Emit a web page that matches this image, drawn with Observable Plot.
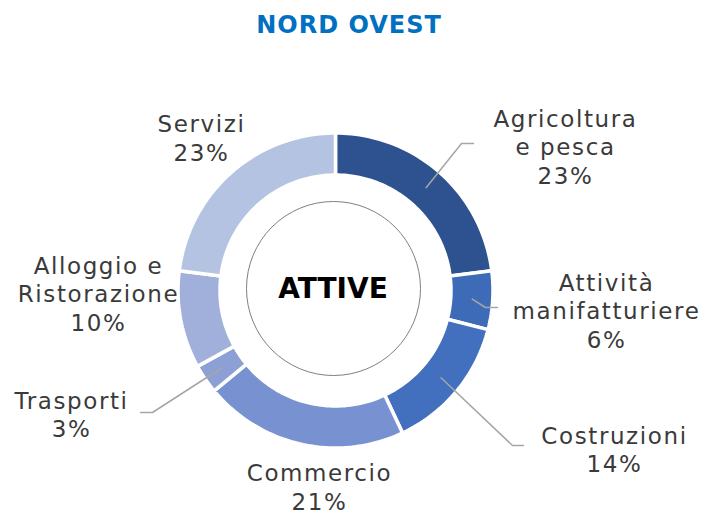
<!DOCTYPE html>
<html>
<head>
<meta charset="utf-8">
<script src="https://cdn.jsdelivr.net/npm/d3@7"></script>
<script src="https://cdn.jsdelivr.net/npm/@observablehq/plot@0.6"></script>
<style>
  html, body { margin: 0; padding: 0; background: #ffffff; }
  #wrap { width: 704px; }
  #title {
    height: 50px; line-height: 50px; width: 704px; text-align: center;
    font-family: "DejaVu Sans", sans-serif; font-weight: bold; font-size: 24px;
    letter-spacing: 1px; color: #0070C0; position: relative; left: -3px;
  }
</style>
</head>
<body>
<div id="wrap">
  <div id="title"></div>
  <div id="chart"></div>
</div>
<script>
// ---- data ----
const title = "NORD OVEST";
const centerLabel = "ATTIVE";
const categories = [
  "Agricoltura e pesca",
  "Attività manifatturiere",
  "Costruzioni",
  "Commercio",
  "Trasporti",
  "Alloggio e Ristorazione",
  "Servizi"
];
const shares = [23, 6, 14, 21, 3, 10, 23];
const labelLines = [
  ["Agricoltura", "e pesca"],
  ["Attività", "manifatturiere"],
  ["Costruzioni"],
  ["Commercio"],
  ["Trasporti"],
  ["Alloggio e", "Ristorazione"],
  ["Servizi"]
];
const sliceColors = ["#2E5290", "#3D6BB8", "#4270BE", "#7891D0", "#8CA0D6", "#A0B0DA", "#B5C3E2"];

// ---- layout (pixel units relative to the donut centre) ----
const R_OUT = 157.5, R_IN = 115.5, R_LEADER = 137;
const labelPos = [[230, -144.5], [271, 19.5], [279, 158.5], [-16, 196], [-264, 123.5], [-237, 2.5], [-134, -153]];
const leaderBends = [
  [[126, -147], [138, -147]],
  [[150, 17], [162, 17]],
  [[177, 155], [188, 155]],
  null,
  [[-183, 122], [-195, 122]],
  null,
  null
];

document.getElementById("title").textContent = title;

const total = d3.sum(shares);
let cum = 0;
const slicePts = [];
const leaderPts = [];
const labels = [];
categories.forEach((cat, i) => {
  const a0 = cum / total * 2 * Math.PI;
  cum += shares[i];
  const a1 = cum / total * 2 * Math.PI;
  const n = Math.max(4, Math.ceil(shares[i] / total * 240));
  const outer = d3.range(n + 1).map(k => a0 + (a1 - a0) * k / n);
  outer.forEach(a => slicePts.push({cat, x: R_OUT * Math.sin(a), y: -R_OUT * Math.cos(a)}));
  outer.slice().reverse().forEach(a => slicePts.push({cat, x: R_IN * Math.sin(a), y: -R_IN * Math.cos(a)}));
  const am = (a0 + a1) / 2;
  if (leaderBends[i]) {
    leaderPts.push({cat, x: R_LEADER * Math.sin(am), y: -R_LEADER * Math.cos(am)});
    leaderBends[i].forEach(([x, y]) => leaderPts.push({cat, x, y}));
  }
  labels.push({
    cat,
    x: labelPos[i][0],
    y: labelPos[i][1],
    text: [...labelLines[i], shares[i] + "%"].join("\n")
  });
});

const W = 704, H = 465;
const CX = 335, CY = 240;

const chart = Plot.plot({
  width: W,
  height: H,
  margin: 0,
  x: {domain: [-CX, W - CX], range: [0, W], axis: null},
  y: {domain: [-CY, H - CY], range: [0, H], axis: null},
  color: {domain: categories, range: sliceColors},
  style: {background: "#ffffff", overflow: "visible"},
  marks: [
    Plot.line(slicePts, {
      x: "x", y: "y", z: "cat", fill: "cat",
      stroke: "white", strokeWidth: 3.5, strokeLinejoin: "miter",
      curve: "linear-closed"
    }),
    Plot.dot([{x: -2, y: -2}], {x: "x", y: "y", r: 87, fill: "none", stroke: "#808080", strokeWidth: 1}),
    Plot.text([centerLabel], {
      x: () => -2.5, y: () => -1, text: d => d,
      fontSize: 28, fontWeight: "bold", fontFamily: "DejaVu Sans", fill: "#000000"
    }),
    Plot.line(leaderPts, {x: "x", y: "y", z: "cat", stroke: "#A6A6A6", strokeWidth: 1.5}),
    Plot.text(labels, {
      x: "x", y: "y", text: "text",
      fontSize: 23, lineHeight: 1.24, fontFamily: "DejaVu Sans",
      fill: "#3A3A3A"
    })
  ]
});

d3.select(chart).selectAll("text")
  .filter(function () { return this.textContent !== centerLabel; })
  .attr("letter-spacing", "1.6px");

document.getElementById("chart").appendChild(chart);
</script>
</body>
</html>
